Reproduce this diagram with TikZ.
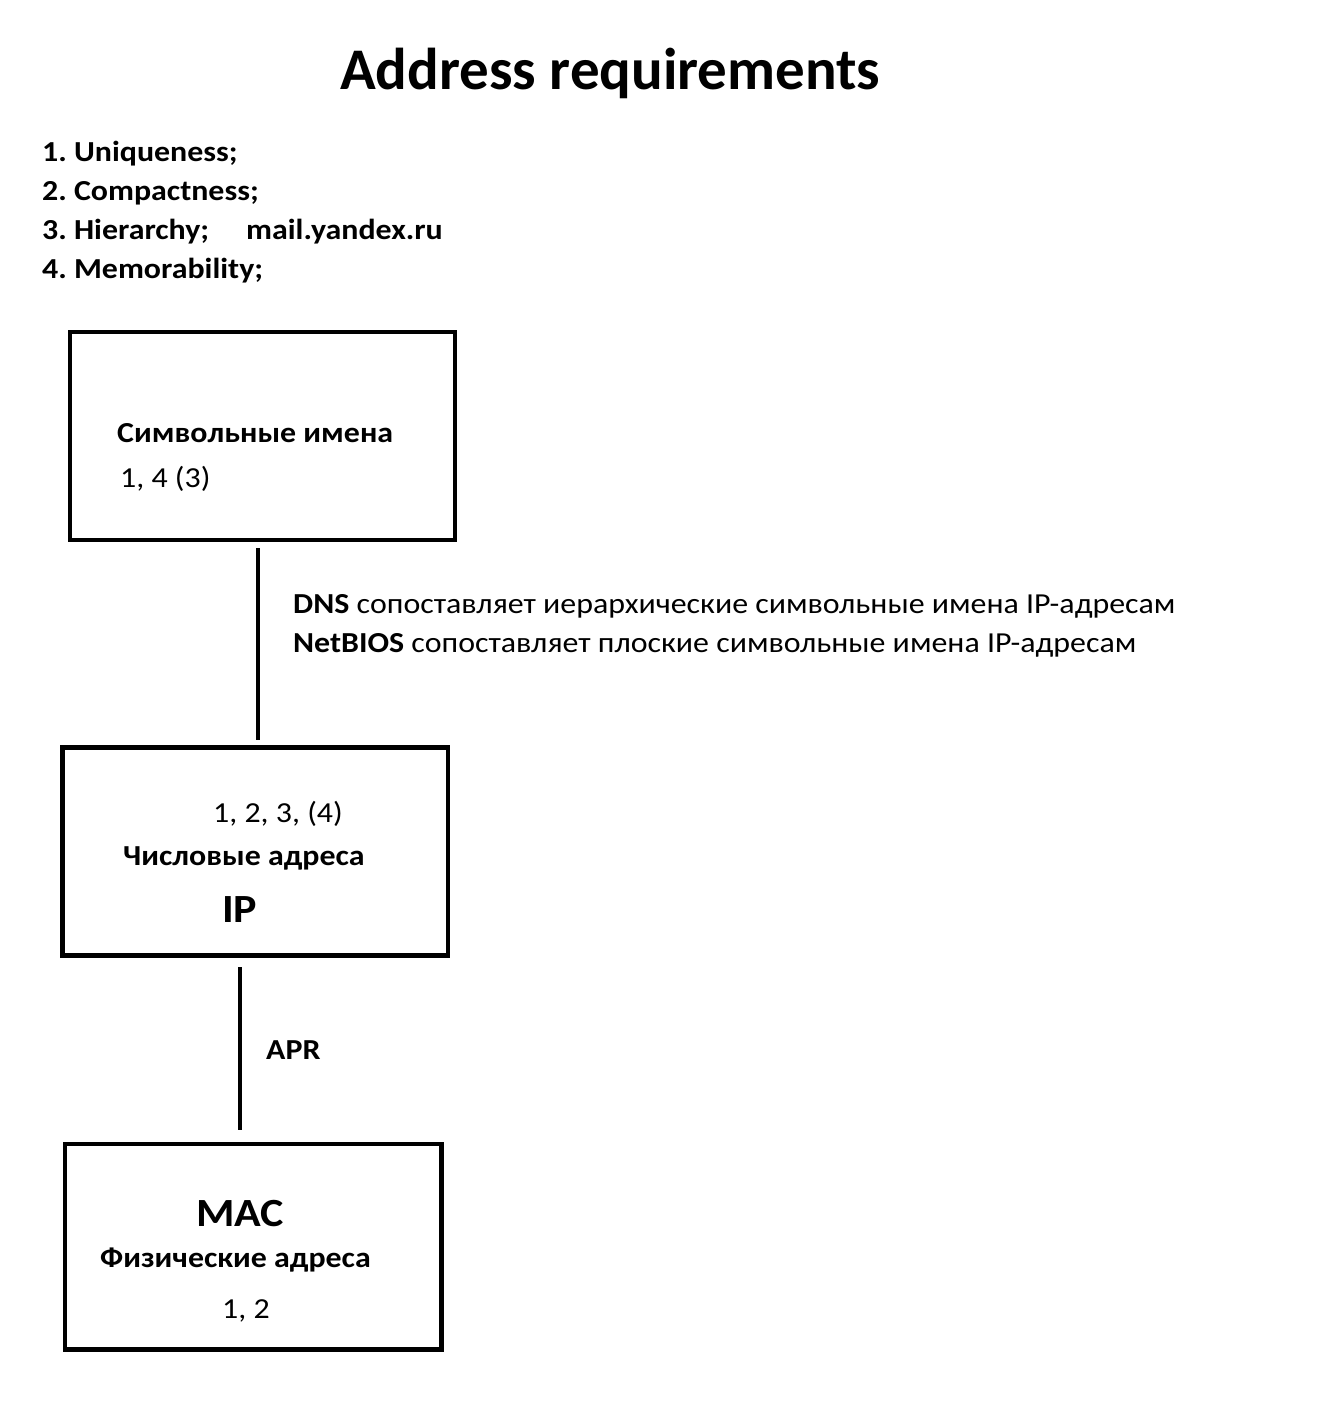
\documentclass[tikz,border=0pt]{standalone}
\usepackage{fontspec}
\setmainfont{Carlito}
\newfontfamily\wfont[FakeStretch=1.1]{Carlito}
\frenchspacing
\begin{document}
\begin{tikzpicture}[x=1pt,y=-1pt,
  box/.style={draw,line width=4.5pt,inner sep=0pt,outer sep=0pt,anchor=north west},
  conn/.style={line width=4pt},
  txt/.style={anchor=base west,inner sep=0pt,font=\wfont\fontsize{29}{34}\selectfont},
  btxt/.style={txt,font=\wfont\fontsize{29}{34}\selectfont\bfseries},
  big/.style={txt,font=\wfont\fontsize{40}{46}\selectfont\bfseries},
  ttl/.style={txt,font=\fontsize{59}{68}\selectfont\bfseries}]
\useasboundingbox[fill=white] (0,0) rectangle (1328,1412);
% title
\node[ttl] (title) at (340,90) {Address requirements};
% list
\node[btxt] (r1) at (42,162) {1. Uniqueness;};
\node[btxt] (r2) at (42,201) {2. Compactness;};
\node[btxt] (r3) at (42,240) {3. Hierarchy;};
\node[btxt] (r3b) at (246,240) {mail.yandex.ru};
\node[btxt] (r4) at (42,279) {4. Memorability;};
% boxes
\node[box,minimum width=385pt,minimum height=208pt] (b1) at (70,332) {};
\node[box,minimum width=385.5pt,minimum height=208pt] (b2) at (62.5,747.5) {};
\node[box,minimum width=376.5pt,minimum height=205.5pt] (b3) at (65,1144) {};
% box 1 texts
\node[btxt] (b1t1) at (117,442) {Символьные имена};
\node[txt] (b1t2) at (120,487) {1, 4 (3)};
% box 2 texts
\node[txt] (b2t1) at (213,822) {1, 2, 3, (4)};
\node[btxt] (b2t2) at (123,865) {Числовые адреса};
\node[big] (b2t3) at (222,922) {IP};
% box 3 texts
\node[big] (b3t1) at (196,1226) {MAC};
\node[btxt] (b3t2) at (100,1267) {Физические адреса};
\node[txt] (b3t3) at (222,1318) {1, 2};
% connectors
\draw[conn] ([xshift=-4.5pt,yshift=-8pt]b1.south) -- ([xshift=2.75pt,yshift=7.5pt]b2.north);
\draw[conn] ([xshift=-15.25pt,yshift=-11.5pt]b2.south) -- ([xshift=-13.25pt,yshift=14pt]b3.north);
% connector labels
\node[txt] (dns) at (293,613) {\textbf{DNS} сопоставляет иерархические символьные имена IP-адресам};
\node[txt] (nb) at (293,652) {\textbf{NetBIOS} сопоставляет плоские символьные имена IP-адресам};
\node[btxt] (apr) at (266,1059) {APR};
\end{tikzpicture}
\end{document}
